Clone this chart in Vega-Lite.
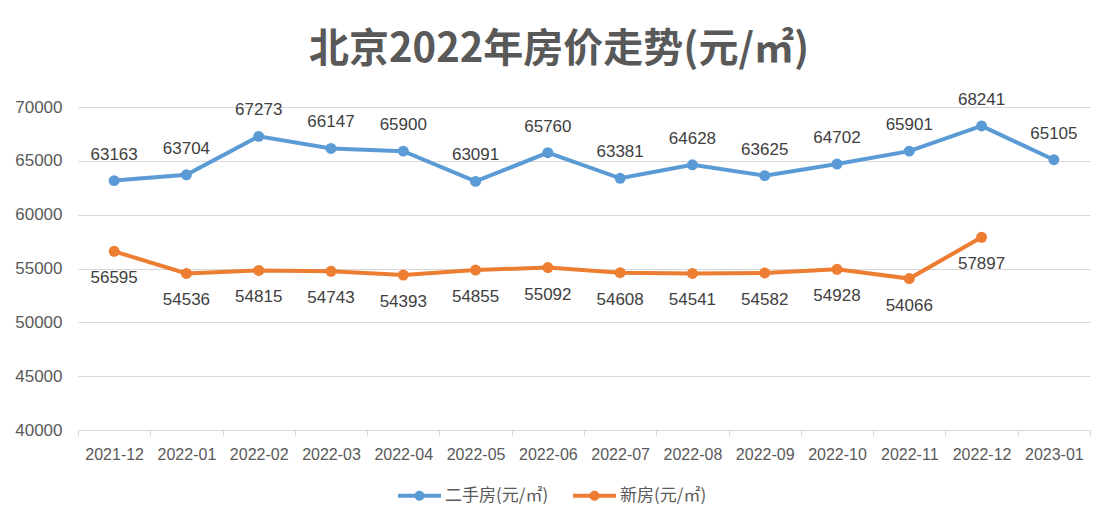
{
  "$schema": "https://vega.github.io/schema/vega-lite/v6.json",
  "width": 1012,
  "height": 323,
  "autosize": "none",
  "padding": {"left": 78, "top": 107, "right": 25, "bottom": 97},
  "background": "white",
  "config": {"view": {"stroke": null}},
  "title": {
    "text": "北京2022年房价走势(元/㎡)",
    "font": "Noto Sans CJK SC",
    "fontSize": 40,
    "fontWeight": "bold",
    "color": "#595959",
    "dx": -25,
    "offset": 21
  },
  "data": {
    "values": [
      {"month": "2021-12", "series": "二手房(元/㎡)", "price": 63163},
      {"month": "2022-01", "series": "二手房(元/㎡)", "price": 63704},
      {"month": "2022-02", "series": "二手房(元/㎡)", "price": 67273},
      {"month": "2022-03", "series": "二手房(元/㎡)", "price": 66147},
      {"month": "2022-04", "series": "二手房(元/㎡)", "price": 65900},
      {"month": "2022-05", "series": "二手房(元/㎡)", "price": 63091},
      {"month": "2022-06", "series": "二手房(元/㎡)", "price": 65760},
      {"month": "2022-07", "series": "二手房(元/㎡)", "price": 63381},
      {"month": "2022-08", "series": "二手房(元/㎡)", "price": 64628},
      {"month": "2022-09", "series": "二手房(元/㎡)", "price": 63625},
      {"month": "2022-10", "series": "二手房(元/㎡)", "price": 64702},
      {"month": "2022-11", "series": "二手房(元/㎡)", "price": 65901},
      {"month": "2022-12", "series": "二手房(元/㎡)", "price": 68241},
      {"month": "2023-01", "series": "二手房(元/㎡)", "price": 65105},
      {"month": "2021-12", "series": "新房(元/㎡)", "price": 56595},
      {"month": "2022-01", "series": "新房(元/㎡)", "price": 54536},
      {"month": "2022-02", "series": "新房(元/㎡)", "price": 54815},
      {"month": "2022-03", "series": "新房(元/㎡)", "price": 54743},
      {"month": "2022-04", "series": "新房(元/㎡)", "price": 54393},
      {"month": "2022-05", "series": "新房(元/㎡)", "price": 54855},
      {"month": "2022-06", "series": "新房(元/㎡)", "price": 55092},
      {"month": "2022-07", "series": "新房(元/㎡)", "price": 54608},
      {"month": "2022-08", "series": "新房(元/㎡)", "price": 54541},
      {"month": "2022-09", "series": "新房(元/㎡)", "price": 54582},
      {"month": "2022-10", "series": "新房(元/㎡)", "price": 54928},
      {"month": "2022-11", "series": "新房(元/㎡)", "price": 54066},
      {"month": "2022-12", "series": "新房(元/㎡)", "price": 57897}
    ]
  },
  "encoding": {
    "x": {
      "field": "month",
      "type": "nominal",
      "scale": {"type": "band", "paddingInner": 0, "paddingOuter": 0},
      "axis": {
        "title": null,
        "labelAngle": 0,
        "tickBand": "extent",
        "domainColor": "#D9D9D9",
        "tickColor": "#D9D9D9",
        "tickSize": 6,
        "labelFont": "Liberation Sans",
        "labelFontSize": 16,
        "labelColor": "#595959",
        "labelPadding": 10,
        "grid": false
      }
    },
    "y": {
      "field": "price",
      "type": "quantitative",
      "scale": {"domain": [40000, 70000], "nice": false, "zero": false},
      "axis": {
        "title": null,
        "values": [40000, 45000, 50000, 55000, 60000, 65000, 70000],
        "format": "d",
        "grid": true,
        "gridColor": "#D9D9D9",
        "domain": false,
        "ticks": false,
        "labelPadding": 16,
        "labelFont": "Liberation Sans",
        "labelFontSize": 17,
        "labelColor": "#595959"
      }
    }
  },
  "layer": [
    {
      "mark": {"type": "line", "strokeWidth": 4, "point": {"filled": true, "size": 120}},
      "encoding": {
        "color": {
          "field": "series",
          "type": "nominal",
          "scale": {"domain": ["二手房(元/㎡)", "新房(元/㎡)"], "range": ["#5B9BD5", "#ED7D31"]},
          "legend": {
            "title": null,
            "orient": "none",
            "legendX": 320,
            "legendY": 367,
            "direction": "horizontal",
            "labelFont": "Noto Sans CJK SC",
            "labelFontSize": 17,
            "labelColor": "#595959",
            "labelOffset": 4,
            "columnPadding": 24,
            "symbolSize": 1849,
            "symbolType": "M-1,-0.093L1,-0.093L1,0.093L-1,0.093Z M0.233,0A0.233,0.233,0,1,1,-0.233,0A0.233,0.233,0,1,1,0.233,0Z",
            "encode": {
              "symbols": {
                "update": {
                  "fill": {"scale": "color", "field": "value"},
                  "stroke": {"value": "transparent"},
                  "strokeWidth": {"value": 0}
                }
              }
            }
          }
        }
      }
    },
    {
      "transform": [{"filter": "datum.series === '二手房(元/㎡)'"}],
      "mark": {"type": "text", "dy": -26, "font": "Liberation Sans", "fontSize": 17, "color": "#404040"},
      "encoding": {"text": {"field": "price", "type": "quantitative", "format": "d"}}
    },
    {
      "transform": [{"filter": "datum.series === '新房(元/㎡)'"}],
      "mark": {"type": "text", "dy": 27, "font": "Liberation Sans", "fontSize": 17, "color": "#404040"},
      "encoding": {"text": {"field": "price", "type": "quantitative", "format": "d"}}
    }
  ]
}
